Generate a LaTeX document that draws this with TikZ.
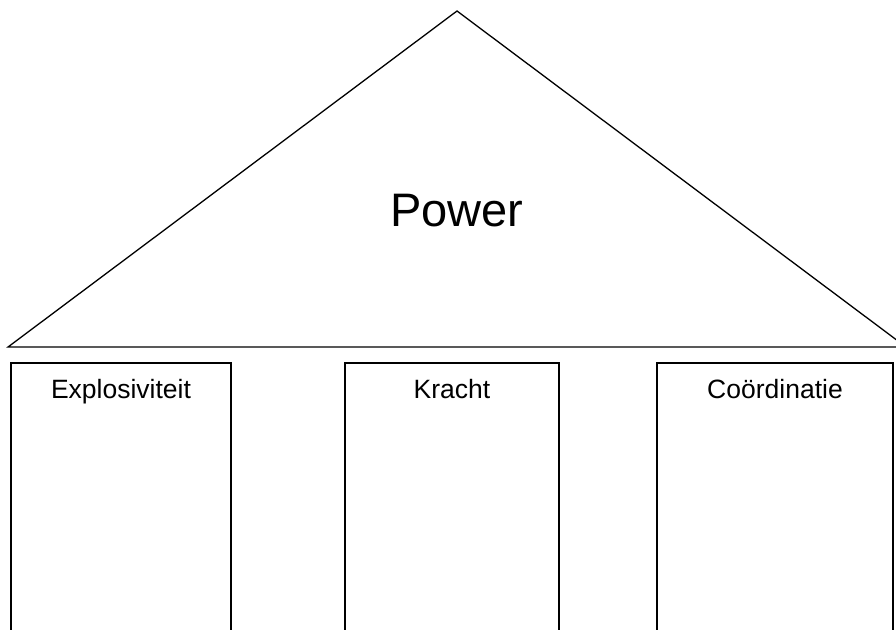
\documentclass[tikz,border=0pt]{standalone}
\usepackage{fontspec}
\setmainfont{Liberation Sans}

\begin{document}
\begin{tikzpicture}[x=1pt, y=-1pt, line width=1.3pt, pillar/.style={draw, line width=1.3pt}, title/.style={font=\fontsize{47}{56}\selectfont}, label/.style={font=\fontsize{26.5}{31}\selectfont, anchor=base}]
\clip (0,0) rectangle (896,629);
\useasboundingbox (0,0) rectangle (896,629);

\coordinate (L) at (8,347); \coordinate (T) at (457,11); \coordinate (R) at (906,347); \draw (L)--(T)--(R)--cycle;
\node[title] (power) at (457,211) {Power};
\draw[pillar] (11,363) rectangle (231,660); \node[label] (expl) at (121,398) {Explosiviteit};
\draw[pillar] (345,363) rectangle (559,660); \node[label] (kracht) at (452,398) {Kracht};
\draw[pillar] (657,363) rectangle (893,660); \node[label] (coord) at (775,398) {Coördinatie};
\end{tikzpicture}
\end{document}
